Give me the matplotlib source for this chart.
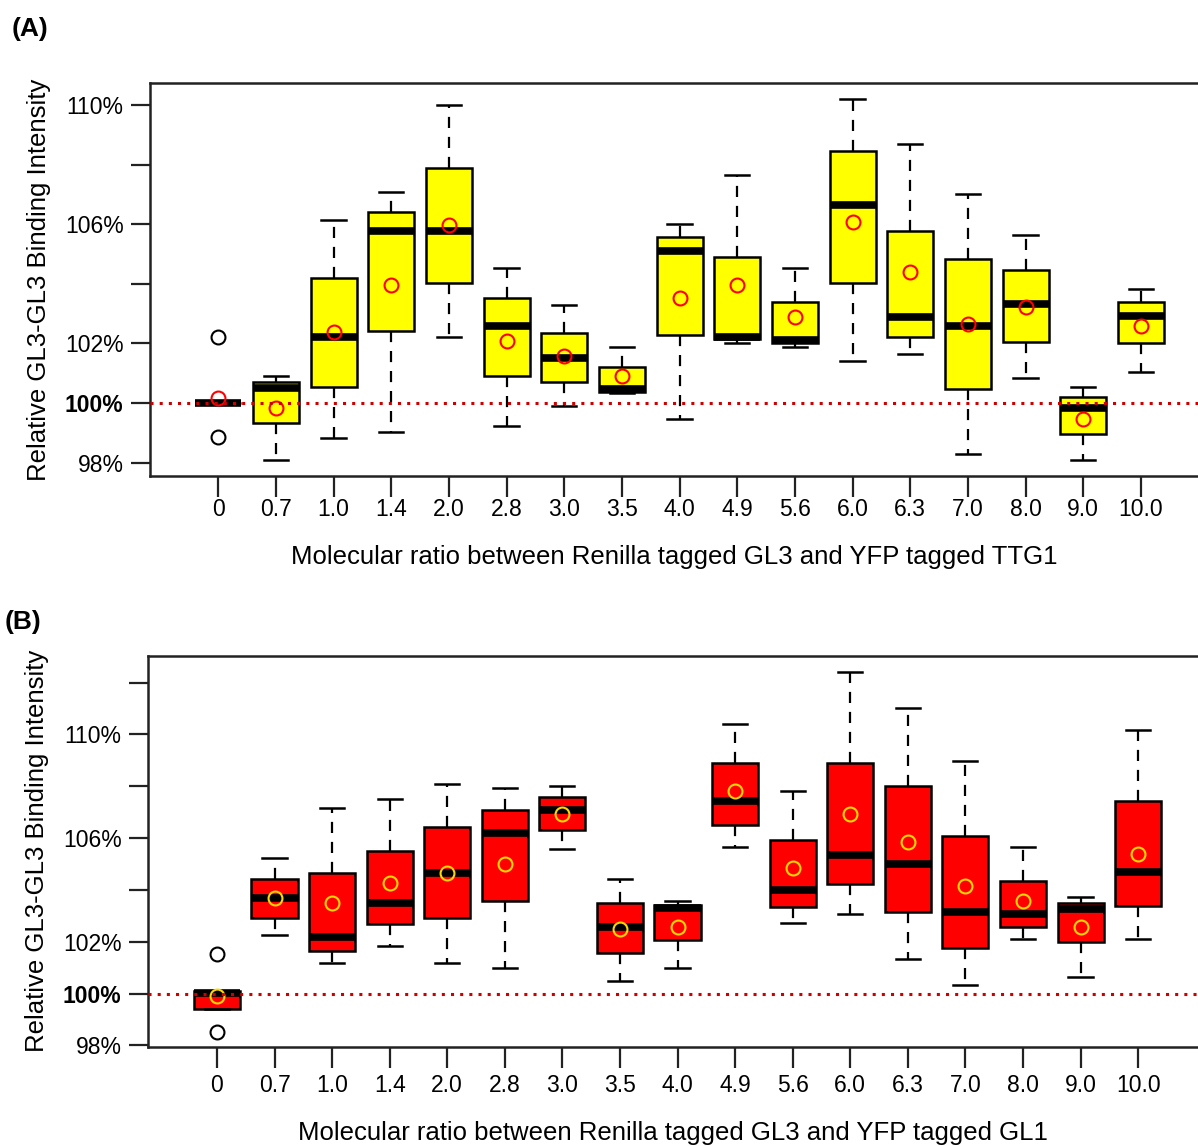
import matplotlib
matplotlib.use("Agg")
import matplotlib.pyplot as plt

plt.rcParams['font.family'] = ['Liberation Sans', 'DejaVu Sans']

ratios = ['0', '0.7', '1.0', '1.4', '2.0', '2.8', '3.0', '3.5', '4.0', '4.9',
          '5.6', '6.0', '6.3', '7.0', '8.0', '9.0', '10.0']

# panel A: GL3 + TTG1 (values in %)
a_whislo = [100.0, 98.09, 98.83, 99.03, 102.21, 99.23, 99.9, 100.34, 99.46, 102.01,
            101.88, 101.41, 101.64, 98.29, 100.84, 98.09, 101.04]
a_q1 = [100.0, 99.33, 100.54, 102.42, 104.03, 100.9, 100.7, 100.37, 102.28, 102.15,
        102.01, 104.03, 102.21, 100.47, 102.05, 98.96, 102.01]
a_med = [100.0, 100.5, 102.21, 105.77, 105.77, 102.58, 101.51, 100.48, 105.1, 102.21,
         102.11, 106.64, 102.89, 102.58, 103.32, 99.83, 102.92]
a_q3 = [100.0, 100.7, 104.19, 106.41, 107.89, 103.52, 102.35, 101.21, 105.57, 104.9,
        103.39, 108.46, 105.77, 104.83, 104.46, 100.2, 103.39]
a_whishi = [100.0, 100.9, 106.14, 107.08, 110.0, 104.53, 103.29, 101.88, 106.0, 107.65,
            104.53, 110.2, 108.69, 107.01, 105.64, 100.54, 103.83]
a_mean = [100.17, 99.83, 102.38, 103.96, 105.97, 102.08, 101.58, 100.9, 103.52, 103.96,
          102.89, 106.07, 104.4, 102.65, 103.22, 99.46, 102.58]
a_fliers = {0: [102.22, 98.86]}

# panel B: GL3 + GL1 (values in %)
b_whislo = [99.4, 102.26, 101.17, 101.85, 101.17, 101.0, 105.58, 100.49, 101.0, 105.67,
            102.73, 103.07, 101.32, 100.33, 102.09, 100.65, 102.09]
b_q1 = [99.4, 102.93, 101.65, 102.67, 102.93, 103.58, 106.31, 101.58, 102.07, 106.51,
        103.33, 104.23, 103.16, 101.75, 102.58, 101.98, 103.39]
b_med = [100.02, 103.67, 102.19, 103.51, 104.66, 106.18, 107.08, 102.58, 103.29, 107.43,
         104.0, 105.35, 105.0, 103.16, 103.07, 103.25, 104.68]
b_q3 = [100.1, 104.42, 104.66, 105.5, 106.42, 107.08, 107.6, 103.48, 103.42, 108.91,
        105.93, 108.91, 108.01, 106.09, 104.36, 103.51, 107.43]
b_whishi = [100.1, 105.24, 107.17, 107.5, 108.08, 107.92, 108.01, 104.42, 103.58, 110.41,
            107.83, 112.42, 111.01, 108.99, 105.67, 103.74, 110.17]
b_mean = [99.9, 103.67, 103.51, 104.25, 104.66, 105.0, 106.93, 102.49, 102.58, 107.83,
          104.83, 106.93, 105.84, 104.16, 103.58, 102.58, 105.4]
b_fliers = {0: [101.51, 98.5]}


def make_stats(whislo, q1, med, q3, whishi, mean, fliers):
    stats = []
    for i in range(len(med)):
        stats.append({'whislo': whislo[i], 'q1': q1[i], 'med': med[i], 'q3': q3[i],
                      'whishi': whishi[i], 'mean': mean[i], 'fliers': fliers.get(i, [])})
    return stats


def draw_panel(ax, stats, fill, mean_col, yticks, ylabels, minor, ylim, xlim, xlabel, xpad):
    ax.bxp(stats, positions=range(len(stats)), widths=0.8, capwidths=0.42,
           patch_artist=True, showmeans=True, manage_ticks=False,
           boxprops=dict(facecolor=fill, edgecolor='black', linewidth=1.8),
           medianprops=dict(color='black', linewidth=5.5, solid_capstyle='butt'),
           whiskerprops=dict(color='black', linewidth=1.6, linestyle=(0, (5, 4))),
           capprops=dict(color='black', linewidth=1.8),
           meanprops=dict(marker='o', markerfacecolor='none', markeredgecolor=mean_col,
                          markersize=10, markeredgewidth=1.5),
           flierprops=dict(marker='o', markerfacecolor='none', markeredgecolor='black',
                           markersize=10, markeredgewidth=1.5))
    ax.axhline(100, color='#cc0000', linestyle=(0, (1, 2)), linewidth=2.2, zorder=5)
    ax.set_xlim(*xlim)
    ax.set_ylim(*ylim)
    ax.set_xticks(range(len(ratios)))
    ax.set_xticklabels(ratios)
    ax.set_yticks(yticks + minor)
    ax.set_yticklabels(ylabels + [''] * len(minor))
    for t in ax.get_yticklabels():
        if t.get_text() == '100%':
            t.set_fontweight('bold')
    ax.tick_params(axis='both', width=1.6, labelsize=16.5, color='#222222')
    ax.tick_params(axis='y', length=14, pad=5)
    ax.tick_params(axis='x', length=15, pad=xpad)
    ax.spines['right'].set_visible(False)
    for s in ['left', 'bottom', 'top']:
        ax.spines[s].set_linewidth(1.8)
        ax.spines[s].set_color('#222222')
    ax.set_ylabel('Relative GL3-GL3 Binding Intensity', fontsize=18.5, labelpad=10)
    ax.set_xlabel(xlabel, fontsize=18.5, labelpad=17)


fig = plt.figure(figsize=(11.98, 11.46), dpi=100)

ax1 = fig.add_axes([0.1252, 0.5846, 0.8748, 0.343])
draw_panel(ax1, make_stats(a_whislo, a_q1, a_med, a_q3, a_whishi, a_mean, a_fliers),
           '#ffff00', '#ff0000',
           [98, 100, 102, 106, 110], ['98%', '100%', '102%', '106%', '110%'], [104, 108],
           (97.55, 110.74), (-1.184, 16.99),
           'Molecular ratio between Renilla tagged GL3 and YFP tagged TTG1', 1)

ax2 = fig.add_axes([0.1235, 0.0867, 0.8765, 0.341])
draw_panel(ax2, make_stats(b_whislo, b_q1, b_med, b_q3, b_whishi, b_mean, b_fliers),
           '#ff0000', '#ffd700',
           [98, 100, 102, 106, 110], ['98%', '100%', '102%', '106%', '110%'], [104, 108, 112],
           (97.95, 113.03), (-1.198, 17.04),
           'Molecular ratio between Renilla tagged GL3 and YFP tagged GL1', 5)

fig.text(0.010, 0.975, '(A)', fontsize=19, fontweight='bold', va='center', ha='left')
fig.text(0.004, 0.457, '(B)', fontsize=19, fontweight='bold', va='center', ha='left')

fig.savefig('out.png', dpi=100)
